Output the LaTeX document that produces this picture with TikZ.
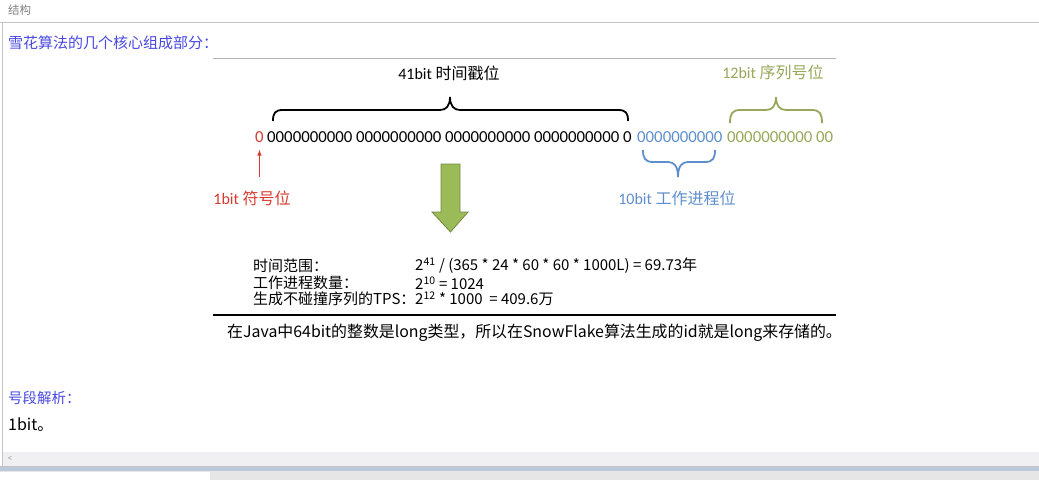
\documentclass[tikz,border=0pt]{standalone}
\usepackage{fontspec}
\setmainfont{Carlito}
\newfontfamily\cjk{Noto Sans CJK SC}
\usetikzlibrary{positioning}
\definecolor{signred}{HTML}{D63A2E}
\definecolor{workblue}{HTML}{5E8FCC}
\definecolor{seqgreen}{HTML}{98A85A}
\definecolor{titleblue}{HTML}{4848E0}
\definecolor{arrowgreen}{HTML}{9BBB59}
\definecolor{arrowedge}{HTML}{71893F}
\definecolor{framegray}{HTML}{C4C4C4}
\definecolor{scrollgray}{HTML}{F0EFF2}
\definecolor{bandblue}{HTML}{BCC9DC}
\definecolor{tabgray}{HTML}{E6E6E6}
\begin{document}
\begin{tikzpicture}[x=1pt,y=-1pt,
    bits/.style={inner sep=0pt,anchor=west,font=\fontsize{16.8}{18}\selectfont},
    bitlabel/.style={inner sep=0pt,font=\fontsize{16}{18}\selectfont},
    info/.style={inner sep=0pt,anchor=west,font=\cjk\fontsize{15}{17}\selectfont},
    bracepath/.style={line width=1.8pt},
    signarrow/.style={signred,line width=1pt,-latex,shorten <=13pt,shorten >=7pt}]
    \useasboundingbox (0,0) rectangle (1039,480);
    %fondo e cornice della finestra
    \fill[white] (0,0) rectangle (1039,480);
    \node[anchor=west,inner sep=0pt,gray,font=\cjk\fontsize{11.5}{13}\selectfont] (head) at (8,10) {结构};
    \draw[framegray] (0,22) -- (1039,22);
    \draw[framegray] (2,22) -- (2,466);
    %titolo
    \node[anchor=west,inner sep=0pt,titleblue,font=\cjk\fontsize{15}{17}\selectfont] (title) at (8,43) {雪花算法的几个核心组成部分：};
    %riga sopra lo schema
    \draw[gray!60] (213,58) -- (836,58);

    %i 64 bit
    \node[bits,signred] (sign) at (255,137) {0};
    \node[bits] (time) at (267,137) {0000000000 0000000000 0000000000 0000000000 0};
    \node[bits,workblue] (work) at (637,137) {0000000000};
    \node[bits,seqgreen] (seq) at (727,137) {0000000000 00};

    %etichette dei campi
    \node[bitlabel] (timelbl) at (449,73) {41bit {\cjk 时间戳位}};
    \node[bitlabel,seqgreen] (seqlbl) at (773,72) {12bit {\cjk 序列号位}};
    \node[bitlabel,signred] (signlbl) at (252,198) {1bit {\cjk 符号位}};
    \node[bitlabel,workblue] (worklbl) at (677,198) {10bit {\cjk 工作进程位}};

    %freccia del bit di segno
    \draw[signarrow] (signlbl.north -| sign.south) -- (sign.south);

    %graffa nera
    \draw[bracepath] (273,121) .. controls (273,113) and (275,110) .. (283,110) -- (440,110)
                     .. controls (446,110) and (450,106) .. (450,97)
                     .. controls (450,106) and (454,110) .. (460,110) -- (618,110)
                     .. controls (626,110) and (628,113) .. (628,121);
    %graffa verde
    \draw[bracepath,seqgreen] (730,123) .. controls (730,114) and (732,110) .. (740,110) -- (766,110)
                     .. controls (772,110) and (776,106) .. (776,97)
                     .. controls (776,106) and (780,110) .. (786,110) -- (812,110)
                     .. controls (820,110) and (822,114) .. (822,123);
    %graffa blu
    \draw[bracepath,workblue] (643,150) .. controls (643,158) and (645,162) .. (653,162) -- (668,162)
                     .. controls (674,162) and (678,166) .. (678,177)
                     .. controls (678,166) and (682,162) .. (688,162) -- (705,162)
                     .. controls (713,162) and (715,158) .. (715,150);

    %freccia verde grande
    \draw[arrowedge,fill=arrowgreen,line width=0.8pt] (441,164) -- (460,164) -- (460,212) -- (468,212)
         -- (450.5,232) -- (432,212) -- (441,212) -- cycle;

    %calcoli
    \node[info] (rangelbl) at (253,266) {时间范围：};
    \node[info] (rangeval) at (415,266) {2\textsuperscript{41} / (365 * 24 * 60 * 60 * 1000L) = 69.73年};
    \node[info] (worklbl2) at (253,283) {工作进程数量：};
    \node[info] (workval) at (415,283) {2\textsuperscript{10} = 1024};
    \node[info] (tpslbl) at (253,299) {生成不碰撞序列的TPS：};
    \node[info] (tpsval) at (415,299) {2\textsuperscript{12} * 1000\ \ = 409.6万};
    \draw[line width=1.5pt] (213,315) -- (836,315);

    %nota sotto lo schema
    \node[info,font=\cjk\fontsize{15.9}{17}\selectfont] (note) at (227,333) {在Java中64bit的整数是long类型，所以在SnowFlake算法生成的id就是long来存储的。};

    %paragrafo successivo
    \node[anchor=west,inner sep=0pt,titleblue,font=\cjk\fontsize{14.5}{16}\selectfont] (parse) at (8,398) {号段解析：};
    \node[anchor=west,inner sep=0pt,font=\cjk\fontsize{16}{19}\selectfont] (onebit) at (8,425) {1bit。};

    %barre in basso
    \fill[scrollgray] (3,452) rectangle (1039,466);
    \node[gray!70,inner sep=0pt,font=\fontsize{10}{12}\selectfont] (left) at (10,459) {<};
    \draw[framegray] (0,466.5) -- (1039,466.5);
    \fill[bandblue] (0,467) rectangle (1039,471);
    \fill[tabgray] (0,471) rectangle (1039,480);
    \fill[white] (0,472) rectangle (210,480);
\end{tikzpicture}
\end{document}
